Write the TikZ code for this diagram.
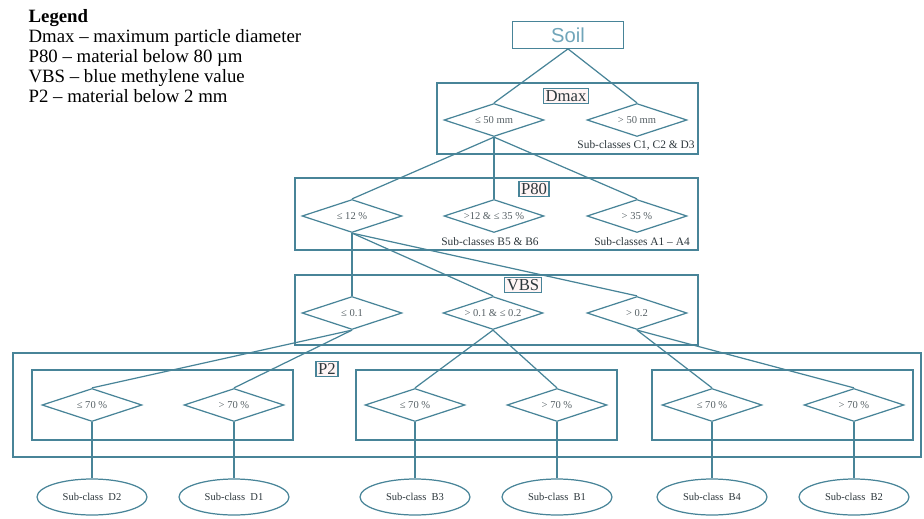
\documentclass[tikz,border=0pt]{standalone}
\usepackage{fontspec}
\setmainfont{Liberation Serif}
\setsansfont{Liberation Sans}
\usepackage{tikz}
\usetikzlibrary{shapes.geometric}
\usepackage{xcolor}
\definecolor{lineteal}{RGB}{72,132,152}
\definecolor{softteal}{RGB}{112,165,185}
\definecolor{inkgray}{RGB}{85,95,100}
\definecolor{inkdark}{RGB}{45,55,60}

\begin{document}
\begin{tikzpicture}[x=0.02cm, y=-0.02cm, line width=0.7pt,
  dia/.style={draw=lineteal, diamond, aspect=3, inner sep=0pt, minimum width=2cm, minimum height=0.66cm, text=inkgray, font=\fontsize{6}{7}\selectfont},
  tag/.style={draw=lineteal, fill=red!4, inner sep=1.2pt, text=inkdark, font=\fontsize{9.5}{10}\selectfont},
  frame/.style={draw=lineteal},
  leaf/.style={draw=lineteal, ellipse, minimum width=2.2cm, minimum height=0.72cm, inner sep=0pt, text=inkdark, font=\fontsize{6}{7}\selectfont},
  note/.style={text=inkdark, font=\fontsize{6.5}{7}\selectfont, inner sep=0pt}]
  \useasboundingbox (0,0) rectangle (924,518);

  % legend
  \node[anchor=north west, align=left, inner sep=0pt, font=\fontsize{10.7}{11.4}\selectfont] (legend) at (28,9)
    {\textbf{Legend}\\Dmax -- maximum particle diameter\\P80 -- material below 80 µm\\VBS -- blue methylene value\\P2 -- material below 2 mm};

  % frames
  \draw[frame] (437,83) rectangle (698,154);
  \draw[frame] (295,178) rectangle (698,250);
  \draw[frame] (295,275) rectangle (698,345);
  \draw[frame] (13,353) rectangle (921,457);
  \draw[frame] (32,370) rectangle (293,440);
  \draw[frame] (356,370) rectangle (617,440);
  \draw[frame] (652,370) rectangle (913,440);

  \node[draw=lineteal, minimum width=2.22cm, minimum height=0.52cm, text=softteal, font=\sffamily\fontsize{11.5}{12}\selectfont] (soil) at (568,35) {Soil};

  % Dmax
  \node[tag] (dmax) at (566,96) {Dmax};
  \node[dia] (d50) at (494,120) {≤ 50 mm};
  \node[dia] (g50) at (637,120) {> 50 mm};
  \node[note] (cc) at (636,145) {Sub-classes C1, C2 \& D3};

  % P80
  \node[tag] (p80) at (534,189) {P80};
  \node[dia] (p12) at (352,216) {≤ 12 \%};
  \node[dia] (p35) at (494,216) {>12 \& ≤ 35 \%};
  \node[dia] (g35) at (637,216) {> 35 \%};
  \node[note] (bb) at (490,242) {Sub-classes B5 \& B6};
  \node[note] (aa) at (642,242) {Sub-classes A1 -- A4};

  % VBS
  \node[tag] (vbs) at (523,285) {VBS};
  \node[dia] (v1) at (352,313) {≤ 0.1};
  \node[dia] (v2) at (493,313) {> 0.1 \& ≤ 0.2};
  \node[dia] (v3) at (637,313) {> 0.2};

  % P2
  \node[tag] (p2) at (327,369) {P2};
  \node[dia] (a1) at (92,405) {≤ 70 \%};
  \node[dia] (a2) at (234,405) {> 70 \%};
  \node[dia] (b1) at (415,405) {≤ 70 \%};
  \node[dia] (b2) at (557,405) {> 70 \%};
  \node[dia] (c1) at (712,405) {≤ 70 \%};
  \node[dia] (c2) at (854,405) {> 70 \%};

  % sub-classes
  \node[leaf] (sd2) at (92,497) {Sub-class\ \ D2};
  \node[leaf] (sd1) at (234,497) {Sub-class\ \ D1};
  \node[leaf] (sb3) at (415,497) {Sub-class\ \ B3};
  \node[leaf] (sb1) at (557,497) {Sub-class\ \ B1};
  \node[leaf] (sb4) at (712,497) {Sub-class\ \ B4};
  \node[leaf] (sb2) at (854,497) {Sub-class\ \ B2};

  % links
  \draw[lineteal] (soil.south) -- (d50.north);
  \draw[lineteal] (soil.south) -- (g50.north);
  \draw[lineteal] (d50.south) -- (p12.north);
  \draw[lineteal] (d50.south) -- (p35.north);
  \draw[lineteal] (d50.south) -- (g35.north);
  \draw[lineteal] (p12.south) -- (v1.north);
  \draw[lineteal] (p12.south) -- (v2.north);
  \draw[lineteal] (p12.south) -- (v3.north);
  \draw[lineteal] (v1.south) -- (a1.north);
  \draw[lineteal] (v1.south) -- (a2.north);
  \draw[lineteal] (v2.south) -- (b1.north);
  \draw[lineteal] (v2.south) -- (b2.north);
  \draw[lineteal] (v3.south) -- (c1.north);
  \draw[lineteal] (v3.south) -- (c2.north);
  \draw[lineteal] (a1.south) -- (sd2.north);
  \draw[lineteal] (a2.south) -- (sd1.north);
  \draw[lineteal] (b1.south) -- (sb3.north);
  \draw[lineteal] (b2.south) -- (sb1.north);
  \draw[lineteal] (c1.south) -- (sb4.north);
  \draw[lineteal] (c2.south) -- (sb2.north);
\end{tikzpicture}
\end{document}
